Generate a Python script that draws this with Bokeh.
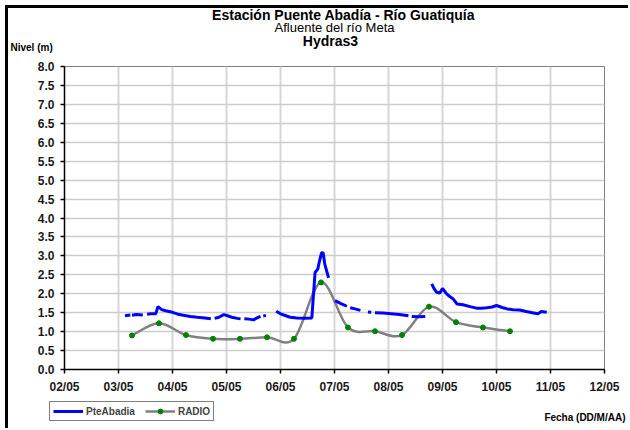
from bokeh.plotting import figure
from bokeh.models import Legend, LegendItem, FixedTicker, Range1d, ColumnDataSource, Label
from bokeh.layouts import column
from bokeh.embed import file_html
from bokeh.resources import INLINE

NaN = float("nan")

# x axis: day of May (2 = 02/05 00:00)
day_ticks = [2, 3, 4, 5, 6, 7, 8, 9, 10, 11, 12]
day_labels = ["02/05", "03/05", "04/05", "05/05", "06/05", "07/05",
              "08/05", "09/05", "10/05", "11/05", "12/05"]
level_ticks = [0.0, 0.5, 1.0, 1.5, 2.0, 2.5, 3.0, 3.5, 4.0, 4.5, 5.0,
               5.5, 6.0, 6.5, 7.0, 7.5, 8.0]

# RADIO series (twice a day)
radio_x = [3.25, 3.75, 4.25, 4.75, 5.25, 5.75, 6.25, 6.75,
           7.25, 7.75, 8.25, 8.75, 9.25, 9.75, 10.25]
radio_y = [0.90, 1.22, 0.91, 0.81, 0.81, 0.85, 0.81, 2.30,
           1.11, 1.01, 0.91, 1.66, 1.25, 1.11, 1.01]

# PteAbadia series (NaN = missing data)
pte_x = [3.12, 3.22, NaN,
         3.25, 3.33, 3.45, NaN,
         3.53, 3.60, 3.69, 3.73, 3.80, 3.87, 4.00, 4.10, 4.20, 4.33, 4.46, 4.60, 4.71, NaN,
         4.78, 4.86, 4.95, 5.02, 5.10, 5.20, 5.26, NaN,
         5.33, 5.42, 5.50, 5.56, 5.63, NaN,
         5.68, 5.73, NaN,
         5.92, 6.00, 6.10, 6.18, 6.30, 6.45, 6.58, 6.64, 6.69, 6.72, 6.76, 6.79, 6.82, 6.89, NaN,
         7.01, 7.12, 7.23, NaN,
         7.29, 7.38, 7.48, NaN,
         7.62, 7.68, NaN,
         7.75, 7.90, 8.05, 8.20, 8.37, NaN,
         8.43, 8.55, 8.68, NaN,
         8.80, 8.85, 8.89, 8.95, 9.00, 9.08, 9.14, 9.20, 9.27, 9.38, 9.51, 9.63, 9.72,
         9.82, 9.92, 10.00, 10.12, 10.20, 10.31, 10.43, 10.55, 10.66, 10.77, 10.83, 10.93]
pte_y = [1.42, 1.44, NaN,
         1.43, 1.45, 1.44, NaN,
         1.46, 1.47, 1.47, 1.66, 1.58, 1.55, 1.51, 1.46, 1.43, 1.40, 1.38, 1.36, 1.34, NaN,
         1.35, 1.38, 1.45, 1.42, 1.38, 1.35, 1.34, NaN,
         1.34, 1.33, 1.31, 1.36, 1.40, NaN,
         1.41, 1.43, NaN,
         1.54, 1.47, 1.42, 1.38, 1.36, 1.35, 1.36, 2.56, 2.65, 2.85, 3.08, 3.08, 2.78, 2.42, NaN,
         1.82, 1.74, 1.67, NaN,
         1.63, 1.60, 1.56, NaN,
         1.52, 1.51, NaN,
         1.50, 1.49, 1.47, 1.45, 1.42, NaN,
         1.40, 1.39, 1.40, NaN,
         2.26, 2.12, 2.04, 2.02, 2.14, 1.99, 1.92, 1.86, 1.73, 1.71, 1.66, 1.62, 1.62,
         1.63, 1.65, 1.69, 1.63, 1.60, 1.58, 1.57, 1.53, 1.50, 1.47, 1.53, 1.51]

FONT = "Liberation Sans"
W = 620
BLUE, GRAY, GREEN = "#0000ff", "#808080", "#008000"


def blank(h):
    f = figure(width=W, height=h, x_range=Range1d(0, W), y_range=Range1d(0, h),
               output_backend="svg", toolbar_location=None, title=None,
               x_axis_location=None, y_axis_location=None, min_border=0,
               min_border_left=0, min_border_right=0, min_border_top=0, min_border_bottom=0,
               frame_align=False)
    f.grid.visible = False
    f.outline_line_color = None
    f.background_fill_color = "white"
    f.border_fill_color = "white"
    return f


def lab(f, x, y, text, size, style="bold", align="center"):
    f.add_layout(Label(x=x, y=y, text=text, text_font=FONT, text_font_style=style,
                       text_font_size=size, text_align=align, text_baseline="middle",
                       text_color="black"))


# ---- header ----
top = blank(46)
lab(top, 337, 40, "Estación Puente Abadía  - Río Guatiquía", "14px")
lab(top, 326, 27, "Afluente del río Meta", "13px", style="normal")
lab(top, 322, 14, "Hydras3", "14px")
lab(top, 2, 7, "Nivel (m)", "10px", align="left")

# ---- main chart ----
p = figure(width=W, height=346, x_range=Range1d(2, 12), y_range=Range1d(0, 8),
           output_backend="svg", toolbar_location=None, title=None, frame_align=False,
           min_border_left=56, min_border_right=24, min_border_top=12, min_border_bottom=31)
p.outline_line_color = GRAY
p.outline_line_width = 1
p.background_fill_color = "white"
p.border_fill_color = "white"

p.xgrid.ticker = FixedTicker(ticks=day_ticks)
p.ygrid.ticker = FixedTicker(ticks=level_ticks)
p.xgrid.grid_line_color = "#d6d6d6"
p.xgrid.grid_line_width = 2
p.ygrid.grid_line_color = "#cccccc"
p.ygrid.grid_line_width = 1.5

for ax in (p.xaxis[0], p.yaxis[0]):
    ax.axis_line_color = "black"
    ax.axis_line_width = 1.5
    ax.major_tick_line_color = "black"
    ax.major_tick_line_width = 1.5
    ax.major_tick_in = 0
    ax.major_tick_out = 4
    ax.minor_tick_line_color = None
    ax.major_label_text_font = FONT
    ax.major_label_text_font_style = "bold"
    ax.major_label_text_font_size = "12px"
    ax.major_label_text_color = "#1a1a1a"

p.xaxis.ticker = FixedTicker(ticks=day_ticks)
p.xaxis.major_label_overrides = {t: l for t, l in zip(day_ticks, day_labels)}
p.xaxis.major_label_standoff = 6
p.yaxis.ticker = FixedTicker(ticks=level_ticks)
p.yaxis.major_label_overrides = {t: f"{t:.1f}" for t in level_ticks}
p.yaxis.major_label_standoff = 6

# RADIO smoothed line drawn as Bezier segments (Excel-like smoothing)
n = len(radio_x)
x0s, y0s, x1s, y1s, c0x, c0y, c1x, c1y = [], [], [], [], [], [], [], []
for i in range(n - 1):
    ia = max(i - 1, 0)
    ib = min(i + 2, n - 1)
    x0s.append(radio_x[i]); y0s.append(radio_y[i])
    x1s.append(radio_x[i + 1]); y1s.append(radio_y[i + 1])
    c0x.append(radio_x[i] + (radio_x[i + 1] - radio_x[ia]) / 6)
    c0y.append(radio_y[i] + (radio_y[i + 1] - radio_y[ia]) / 6)
    c1x.append(radio_x[i + 1] - (radio_x[ib] - radio_x[i]) / 6)
    c1y.append(radio_y[i + 1] - (radio_y[ib] - radio_y[i]) / 6)
bz = ColumnDataSource(dict(x0=x0s, y0=y0s, x1=x1s, y1=y1s, cx0=c0x, cy0=c0y, cx1=c1x, cy1=c1y))
p.bezier(x0="x0", y0="y0", x1="x1", y1="y1", cx0="cx0", cy0="cy0", cx1="cx1", cy1="cy1",
         source=bz, line_color=GRAY, line_width=2.5)
p.scatter(radio_x, radio_y, size=5, color=GREEN)
p.line(pte_x, pte_y, line_color=BLUE, line_width=3)

# ---- footer: legend + axis caption ----
bot = blank(28)
# off-screen stand-ins so the legend (which lives in this strip) can draw its swatches
lb = bot.line(x=[-100, -90], y=[-100, -100], line_color=BLUE, line_width=3)
lg = bot.line(x=[-100, -90], y=[-100, -100], line_color=GRAY, line_width=2.5)
ld = bot.scatter(x=[-100], y=[-100], size=5, color=GREEN)
legend = Legend(items=[LegendItem(label="PteAbadia", renderers=[lb]),
                       LegendItem(label="RADIO", renderers=[lg, ld])],
                location=(41, 7), orientation="horizontal",
                border_line_color="black", border_line_width=1,
                background_fill_color="white", background_fill_alpha=1,
                label_text_font=FONT, label_text_font_style="bold",
                label_text_font_size="10px", glyph_width=30, glyph_height=12,
                label_height=12, padding=3, spacing=10, margin=0, label_standoff=3)
bot.add_layout(legend)
lab(bot, 617, 11, "Fecha (DD/M/AA)", "10px", align="right")

page = column(top, p, bot, spacing=0)
page.styles = {"margin-left": "5px", "margin-top": "5px",
               "border-left": "3px solid black", "border-top": "3px solid black",
               "border-right": "0px none", "border-bottom": "0px none",
               "outline": "none", "box-shadow": "none"}

open("out.html", "w").write(file_html(page, INLINE))
